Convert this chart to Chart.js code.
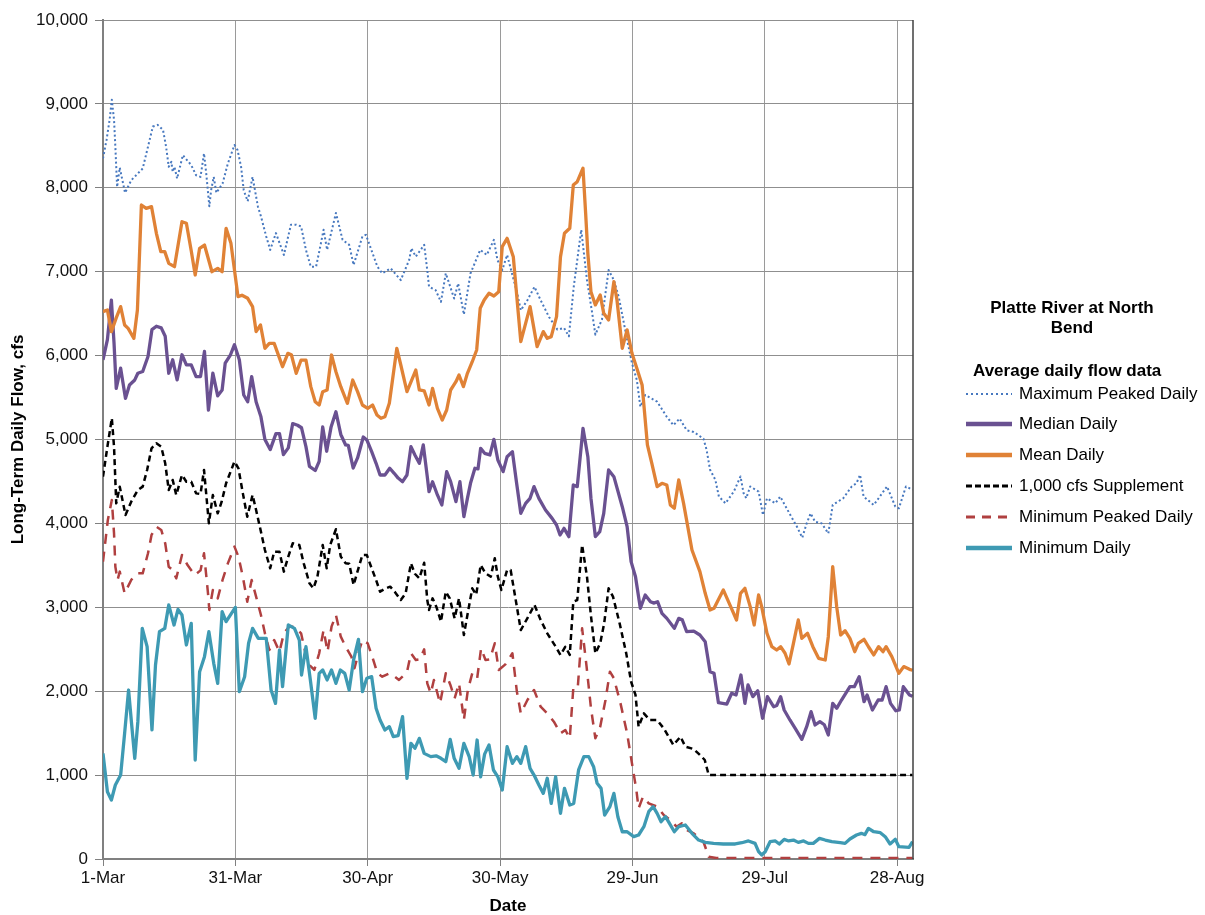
<!DOCTYPE html>
<html><head><meta charset="utf-8">
<script src="https://cdn.jsdelivr.net/npm/chart.js@4.4.0/dist/chart.umd.min.js"></script>
<style>
html,body{margin:0;padding:0;background:#fff;}
#wrap{position:relative;width:1205px;height:915px;overflow:hidden;}
#c{position:absolute;left:0;top:0;}
.lg{position:absolute;font-family:"Liberation Sans",Arial,sans-serif;color:#000;font-size:17px;white-space:nowrap;}
.b{font-weight:bold;}
.item{height:22px;line-height:22px;}
.item svg{position:absolute;left:-53px;top:0;}
</style></head><body>
<div id="wrap">
<canvas id="c" width="1205" height="915"></canvas>
<div class="lg b" style="left:962px;top:298px;width:220px;text-align:center;line-height:20px;">Platte River at North<br>Bend</div>
<div class="lg b" style="left:973px;top:360px;line-height:22px;">Average daily flow data</div>
<div id="legendItems"></div>
</div>
<script>
// ---- data (day offset from 1-Mar, flow in cfs) ----
const tickDays = [0, 30, 60, 90, 120, 150, 180];
const tickLabels = ['1-Mar', '31-Mar', '30-Apr', '30-May', '29-Jun', '29-Jul', '28-Aug'];
const seriesNames = ['Maximum Peaked Daily', 'Median Daily', 'Mean Daily', '1,000 cfs Supplement', 'Minimum Peaked Daily', 'Minimum Daily'];

const maxPeaked = [[0,8350],[0.8,8570],[1.5,8810],[2,9050],[2.5,8810],[2.8,8490],[3.2,8010],[3.8,8240],[5,7940],[6.4,8090],[9,8230],[10.2,8490],[11.3,8730],[12.4,8750],[13.6,8690],[14.3,8490],[14.9,8250],[15.5,8310],[15.8,8190],[16.2,8250],[16.8,8110],[18.1,8390],[20,8270],[21.1,8150],[22.1,8130],[22.9,8410],[23.4,8170],[24.1,7780],[24.5,7970],[25.1,8130],[25.7,7940],[27.1,8050],[28.3,8290],[29.8,8510],[30.5,8450],[31.3,8250],[31.9,7970],[32.8,7840],[33.9,8130],[35.1,7780],[35.8,7660],[37,7420],[37.9,7260],[39.2,7460],[41,7200],[42.6,7560],[43.8,7560],[44.9,7540],[46,7260],[47.1,7060],[48.3,7060],[49.4,7340],[50,7500],[50.8,7260],[52.8,7700],[54.3,7380],[55.8,7320],[56.8,7080],[58.8,7420],[59.6,7440],[61.1,7220],[62.2,7060],[63.3,6980],[65.2,7040],[67.5,6900],[69.4,7140],[69.9,7280],[70.9,7180],[72.8,7320],[73.5,7020],[73.9,6820],[75.4,6780],[76.6,6640],[77.7,6980],[79.6,6680],[80.5,6860],[81.8,6490],[83.3,6980],[85.5,7260],[87,7200],[88.6,7380],[89.4,7140],[90.5,7020],[91.6,7200],[93.9,6740],[94.7,6540],[96.2,6660],[97.8,6820],[99.2,6660],[101.1,6460],[103,6310],[104.5,6330],[105.6,6230],[106.7,6820],[108.4,7500],[109.7,6900],[110.9,6500],[111.6,6250],[113.1,6430],[114.6,7020],[115.8,6900],[116.9,6700],[118.8,6190],[119.9,5910],[121,5710],[121.8,5390],[122.9,5530],[125.6,5450],[127.8,5270],[129.3,5170],[130.7,5250],[132.3,5110],[133.9,5090],[136.1,5010],[136.8,4880],[137.6,4640],[138.8,4520],[139.6,4320],[141.1,4240],[143,4380],[144.5,4560],[145.2,4360],[145.8,4300],[146.7,4440],[148.6,4380],[149.6,4100],[150.5,4300],[152.4,4240],[153.5,4320],[155.8,4100],[157.3,3960],[158.5,3830],[159.5,4000],[160.4,4120],[161.4,4020],[162.9,4000],[164.4,3880],[165.4,4220],[167.8,4300],[169.7,4440],[170.8,4480],[171.6,4580],[172.4,4320],[174.7,4220],[175.8,4300],[177.7,4440],[179.6,4200],[180.4,4180],[182,4440],[183.5,4400]];

const medianDaily = [[0,5950],[1,6190],[1.9,6660],[2.5,6150],[3,5610],[4,5850],[5.1,5490],[6,5650],[7.2,5710],[7.9,5790],[9,5810],[10.2,5990],[11.1,6310],[12.1,6350],[13.2,6330],[14.1,6230],[14.9,5790],[15.8,5950],[16.8,5710],[17.9,6010],[18.9,5890],[20,5890],[21.1,5750],[22.1,5750],[23,6050],[23.9,5350],[24.9,5790],[26,5520],[27,5590],[27.7,5910],[28.9,6010],[29.8,6130],[30.9,5950],[31.9,5530],[32.8,5450],[33.7,5750],[34.7,5450],[35.8,5270],[36.7,5000],[37.9,4880],[39.2,5070],[40,5070],[40.9,4820],[42,4900],[43,5190],[44.1,5170],[45,5140],[46,4915],[46.8,4680],[48.1,4630],[49,4740],[49.8,5150],[50.7,4860],[51.7,5150],[52.8,5330],[53.9,5060],[55,4935],[55.6,4930],[56.7,4660],[57.7,4780],[59,5030],[59.8,4995],[60.9,4855],[61.9,4716],[62.8,4577],[63.9,4577],[65,4657],[66,4597],[66.9,4540],[67.9,4497],[68.9,4577],[69.8,4915],[70.7,4816],[71.7,4716],[72.6,4935],[73.5,4557],[73.9,4378],[74.7,4497],[75.8,4339],[76.8,4220],[77.9,4617],[78.8,4497],[80,4259],[80.9,4497],[81.8,4080],[82.6,4299],[83.3,4478],[84.3,4657],[85,4650],[85.6,4895],[86.5,4835],[87.7,4816],[88.6,5002],[89.5,4756],[90.7,4617],[91.6,4795],[92.8,4855],[93.7,4500],[94.7,4120],[95.8,4239],[96.8,4299],[97.7,4438],[98.8,4299],[100.3,4160],[101.8,4060],[102.8,3981],[103.6,3862],[104.5,3941],[105.6,3842],[106.6,4458],[107.5,4438],[108.8,5133],[109.9,4795],[110.6,4300],[111.6,3842],[112.6,3901],[113.5,4120],[114.6,4637],[115.8,4557],[117.7,4199],[118.8,3961],[119.7,3544],[120.7,3365],[121.8,2988],[122.9,3147],[124.1,3067],[124.8,3050],[125.7,3067],[126.7,2928],[127.8,2868],[129.5,2749],[130.5,2868],[131.3,2850],[132.3,2709],[133.9,2715],[135.3,2670],[136.5,2590],[137.6,2233],[138.5,2213],[139.5,1863],[141.4,1847],[142.5,1975],[143.5,1955],[144.6,2193],[145.5,1855],[146.2,2074],[147.3,1935],[148.4,2006],[149.5,1677],[150.6,1935],[152,1815],[152.7,1830],[153.6,1935],[154.4,1776],[155.7,1657],[156.9,1557],[158.4,1426],[159.5,1577],[160.5,1756],[161.4,1597],[162.5,1637],[163.5,1600],[164.4,1478],[165.4,1855],[166.3,1796],[167.4,1895],[169.3,2054],[170.3,2054],[171.4,2173],[172.5,1875],[173.2,1955],[174.4,1776],[175.7,1895],[176.6,1895],[177.5,2054],[178.5,1855],[179.7,1767],[180.5,1776],[181.4,2054],[182.8,1955],[183.5,1940]];

const meanDaily = [[0,6524],[1,6544],[1.9,6286],[3,6450],[4,6584],[4.9,6365],[5.7,6325],[7,6206],[7.8,6544],[8.7,7795],[9.8,7755],[11,7775],[12.1,7458],[13.1,7239],[14,7239],[14.9,7100],[16.2,7060],[17.9,7596],[18.9,7577],[20,7250],[20.9,6961],[21.9,7279],[23,7318],[24.7,7000],[26,7040],[27,7000],[27.9,7517],[29,7338],[30.6,6703],[31.5,6720],[32.8,6683],[33.9,6584],[34.7,6286],[35.7,6365],[36.7,6087],[37.7,6146],[38.8,6146],[40.7,5868],[41.9,6027],[42.7,6010],[43.8,5789],[44.9,5947],[46,5947],[47.1,5630],[48.1,5451],[49,5411],[49.8,5570],[50.8,5590],[51.8,6007],[52.8,5808],[53.9,5630],[55.4,5431],[56.6,5709],[57.7,5570],[58.8,5411],[60,5371],[61.1,5411],[62.1,5292],[63,5253],[63.9,5272],[64.9,5431],[66.6,6087],[67.5,5888],[68.9,5570],[70.9,5828],[71.7,5590],[72.8,5580],[73.9,5411],[74.7,5610],[75.8,5371],[76.9,5232],[77.9,5352],[78.8,5590],[80,5689],[80.7,5769],[81.7,5630],[82.6,5789],[83.7,5927],[84.7,6067],[85.5,6564],[86.4,6663],[87.5,6743],[88.6,6711],[89.7,6762],[90.5,7298],[91.6,7398],[93,7179],[93.8,6700],[94.7,6166],[96.8,6584],[98.4,6107],[99.8,6286],[100.7,6206],[101.6,6226],[102.8,6464],[103.7,7179],[104.6,7458],[105.8,7517],[106.6,8033],[107.5,8073],[108.8,8233],[109.4,7695],[109.9,7219],[110.6,6762],[111.6,6604],[112.7,6723],[113.5,6504],[114.6,6425],[115.8,6881],[116.5,6663],[117.7,6087],[118.8,6306],[119.9,6027],[121,5850],[122.2,5650],[123.4,4935],[124.4,4716],[125.6,4438],[126.7,4478],[127.8,4458],[128.6,4220],[129.5,4180],[130.5,4518],[131.6,4239],[133.5,3683],[135.3,3425],[136.5,3167],[137.6,2968],[138.5,2988],[140.6,3207],[142.1,3028],[143.6,2849],[144.5,3167],[145.5,3226],[146.7,3008],[147.6,2789],[148.6,3147],[149.3,3008],[150.5,2690],[151.6,2531],[152.7,2491],[153.6,2531],[154.6,2452],[155.5,2324],[156.5,2571],[157.6,2849],[158.4,2630],[159.7,2690],[160.9,2531],[162.2,2392],[163.7,2372],[164.4,2650],[165.4,3484],[166.3,3008],[167.2,2670],[168.2,2721],[169.3,2630],[170.4,2471],[171.2,2571],[172.5,2618],[173.5,2530],[174.7,2432],[175.8,2531],[176.8,2471],[177.5,2531],[178.8,2412],[180.4,2213],[181.5,2293],[182.8,2261],[183.5,2250]];

const supplement = [[0,4557],[1,4915],[2,5253],[2.5,4915],[3,4239],[3.8,4438],[5.1,4100],[6.4,4259],[7.9,4398],[9,4438],[10,4637],[11,4895],[12.1,4955],[13.2,4915],[14.1,4716],[14.9,4398],[15.8,4517],[16.6,4339],[17.9,4577],[18.9,4497],[20,4497],[21.1,4358],[22.1,4350],[22.9,4637],[24,4001],[24.9,4339],[26,4120],[26.9,4259],[27.9,4478],[29.8,4736],[30.7,4657],[31.7,4358],[32.7,4080],[33.9,4339],[34.7,4160],[35.8,3901],[36.7,3683],[37.9,3465],[38.8,3663],[40,3663],[41,3425],[42,3604],[43,3763],[44.5,3743],[45.5,3524],[46.8,3286],[47.7,3226],[48.6,3365],[49.8,3743],[50.7,3465],[51.5,3743],[52.8,3930],[53.9,3604],[55,3524],[55.8,3520],[56.8,3266],[57.9,3465],[58.8,3624],[59.8,3624],[60.9,3465],[61.9,3326],[62.8,3186],[63.9,3220],[65.1,3246],[66.2,3180],[67.5,3087],[68.6,3167],[69.8,3524],[70.7,3400],[71.7,3345],[72.8,3531],[73.5,3087],[73.9,2968],[74.7,3107],[75.6,3000],[76.6,2829],[77.7,3186],[78.6,3107],[79.7,2868],[80.7,3107],[81.8,2670],[82.6,2908],[83.7,3226],[84.6,3150],[85.6,3504],[86.7,3405],[87.9,3365],[88.8,3584],[89.5,3365],[90.3,3206],[91.6,3445],[92.4,3445],[94.7,2729],[96.3,2880],[97.8,3028],[99.2,2849],[100.7,2690],[102.6,2531],[103.7,2432],[104.8,2530],[105.8,2432],[106.6,3067],[107.5,3087],[108.6,3743],[109.7,3365],[110.6,2900],[111.6,2451],[112.7,2571],[113.6,2809],[114.6,3226],[115.6,3127],[117.1,2809],[118.6,2451],[119.7,2114],[120.7,1955],[121.4,1577],[122.6,1736],[123.9,1657],[125.6,1657],[127.1,1557],[129.3,1359],[130.9,1458],[132,1339],[133.9,1310],[135.7,1220],[136.4,1180],[137.3,1000],[183.5,1000]];

const minPeaked = [[0,3544],[1.1,4041],[2,4279],[2.5,3882],[2.8,3484],[3.3,3326],[3.8,3425],[4.9,3167],[6.4,3326],[7.9,3405],[9,3405],[10.2,3644],[11,3862],[12.1,3961],[13.2,3922],[14.1,3763],[14.9,3484],[15.8,3445],[16.6,3345],[17.9,3624],[19.2,3500],[20.8,3385],[22.1,3440],[22.9,3644],[23.8,3167],[24.1,2968],[24.9,3206],[26,3107],[27.1,3326],[28.3,3524],[29.8,3723],[30.7,3604],[31.7,3365],[32.7,3067],[33.7,3326],[34.7,3127],[35.8,2908],[36.7,2690],[37.7,2491],[38.8,2610],[40,2470],[41,2690],[42.2,2769],[43.4,2769],[44.9,2690],[46.4,2332],[47.9,2253],[49,2452],[50,2729],[50.9,2471],[51.8,2769],[52.8,2908],[53.9,2650],[55,2531],[56.3,2412],[57,2273],[58.1,2491],[58.8,2610],[60,2571],[61.1,2400],[62.2,2213],[63.3,2173],[64.9,2213],[66,2180],[67.1,2134],[68,2180],[69,2253],[69.8,2452],[70.9,2372],[71.8,2380],[72.8,2499],[73.5,2094],[74.3,1975],[75,2134],[76.4,1855],[77.7,2213],[78.7,2080],[79.7,1915],[80.7,2094],[81.8,1657],[82.7,2014],[83.7,2213],[84.8,2150],[85.7,2511],[86.7,2372],[87.7,2380],[88.8,2571],[89.7,2253],[91.2,2320],[92.8,2452],[93.8,2000],[94.7,1736],[96.2,1895],[97.7,2014],[99.2,1815],[100.7,1736],[102.2,1637],[103.7,1498],[104.8,1538],[105.8,1438],[106.6,2034],[107.6,2034],[108.6,2749],[109.6,2300],[110.6,1800],[111.6,1438],[112.7,1577],[113.9,1895],[114.9,2233],[115.8,2154],[117.3,1855],[118.8,1498],[119.9,1140],[120.9,822],[121.4,604],[122.4,743],[123.7,663],[125.6,624],[127.1,524],[128.6,465],[130,385],[131.2,425],[132.3,346],[133.9,306],[136.1,206],[137.3,27],[139,12],[183.5,12]];

const minDaily = [[0,1259],[1,802],[1.9,703],[2.8,882],[4,1001],[4.9,1498],[5.8,2014],[6.5,1600],[7.2,1200],[7.9,1637],[8.9,2749],[10,2531],[11.1,1538],[11.9,2312],[12.8,2709],[14,2749],[14.9,3028],[16.1,2789],[17,2975],[17.9,2908],[18.9,2551],[20,2809],[20.9,1180],[21.9,2233],[23,2412],[24,2709],[25.1,2332],[26,2094],[27,2948],[27.9,2829],[30,2999],[30.9,1994],[32.1,2173],[33,2571],[33.9,2749],[35.2,2630],[37,2630],[38.1,2014],[39.1,1855],[40,2491],[40.7,2054],[42,2789],[43.4,2749],[44.5,2610],[45,2193],[46,2531],[47,2134],[48.1,1677],[49,2213],[49.8,2253],[50.8,2134],[51.8,2253],[52.8,2094],[53.8,2253],[54.8,2213],[55.8,2014],[56.8,2372],[57.9,2618],[58.8,1994],[59.8,2154],[60.9,2173],[61.9,1796],[62.8,1657],[63.9,1538],[64.9,1577],[65.8,1458],[66.9,1470],[67.9,1696],[68.9,962],[69.8,1379],[70.7,1319],[71.7,1438],[72.8,1259],[74.3,1220],[75.5,1230],[76.6,1200],[77.7,1160],[78.7,1426],[79.6,1200],[80.7,1081],[81.8,1379],[83,1220],[83.9,1001],[84.8,1418],[85.6,980],[86.5,1250],[87.5,1359],[88.5,1061],[89.5,980],[90.5,822],[91.6,1339],[92.8,1140],[93.8,1220],[94.7,1140],[95.8,1339],[96.8,1081],[97.7,1000],[98.8,882],[99.8,782],[100.7,962],[101.6,663],[102.6,980],[103.7,544],[104.6,842],[105.8,644],[106.7,663],[107.8,1061],[109,1220],[110.1,1220],[111.2,1100],[112,902],[112.9,842],[113.7,524],[114.9,624],[115.8,782],[116.7,504],[117.7,325],[118.8,325],[120.3,266],[121.4,286],[122.6,385],[123.7,564],[124.7,624],[125.6,544],[126.5,445],[127.5,504],[128.4,425],[129.5,325],[130.5,385],[132,405],[133.5,306],[135,226],[136.5,198],[138.4,186],[140.6,179],[143.3,179],[144.8,194],[146.3,215],[147.8,186],[148.6,87],[149.3,48],[150.1,87],[151.2,206],[152.4,215],[153.3,179],[154.4,234],[155.4,215],[156.5,226],[157.6,198],[158.8,215],[159.9,186],[161,186],[162.4,246],[163.7,226],[165.2,206],[167.1,194],[168.2,186],[169.3,238],[170.8,286],[171.9,306],[172.7,290],[173.5,365],[174.7,325],[176.2,313],[177.3,266],[178.4,179],[179.6,234],[180.4,147],[182.7,139],[183.5,206]];

// ---- styles ----
const styles = [
  {color:'#4778bf', width:2, dash:[2,2.5]},
  {color:'#6a5191', width:3.3, dash:[]},
  {color:'#e08236', width:3.3, dash:[]},
  {color:'#000000', width:2.5, dash:[6,4]},
  {color:'#b04040', width:2.5, dash:[10,8]},
  {color:'#3e9ab3', width:3.3, dash:[]}
];
const allSeries = [maxPeaked, medianDaily, meanDaily, supplement, minPeaked, minDaily];

const datasets = allSeries.map((s, i) => ({
  label: seriesNames[i],
  data: s.map(p => ({x: p[0], y: p[1]})),
  borderColor: styles[i].color,
  borderWidth: styles[i].width,
  borderDash: styles[i].dash,
  borderJoinStyle: 'round',
  pointRadius: 0,
  tension: 0,
  fill: false,
  order: 6 - i
}));

// legend (HTML)
const li = document.getElementById('legendItems');
const itemTops = [383, 413, 444, 475, 506, 537];
seriesNames.forEach((n, i) => {
  const st = styles[i];
  const d = document.createElement('div');
  d.className = 'lg item';
  d.style.left = '1019px';
  d.style.top = itemTops[i] + 'px';
  const sw = i === 0 ? 2 : (st.dash.length ? 3 : 4.5);
  const dash = i === 0 ? '2,3' : (i === 3 ? '6,3' : (i === 4 ? '9,7' : 'none'));
  d.innerHTML = '<svg width="47" height="22"><line x1="0" y1="11" x2="46" y2="11" stroke="' + st.color + '" stroke-width="' + sw + '" stroke-dasharray="' + dash + '"/></svg>' + n;
  li.appendChild(d);
});

const rightBorder = {
  id: 'rightBorder',
  afterDatasetsDraw(chart) {
    const {ctx, chartArea: a} = chart;
    ctx.save();
    ctx.strokeStyle = '#404040';
    ctx.lineWidth = 1.5;
    ctx.beginPath();
    ctx.moveTo(a.right, a.top);
    ctx.lineTo(a.right, a.bottom);
    ctx.stroke();
    ctx.restore();
  }
};

const FONT = '"Liberation Sans", Arial, sans-serif';
new Chart(document.getElementById('c'), {
  type: 'line',
  data: {datasets},
  plugins: [rightBorder],
  options: {
    responsive: false,
    animation: false,
    devicePixelRatio: 1,
    layout: {padding: {top: 20, right: 292, bottom: 0, left: 0}},
    plugins: {legend: {display: false}, tooltip: {enabled: false}},
    scales: {
      x: {
        type: 'linear',
        min: 0,
        max: 183.6,
        afterFit(scale) { scale.height = 56; },
        afterBuildTicks(scale) { scale.ticks = tickDays.map(v => ({value: v})); },
        ticks: {
          autoSkip: false, maxRotation: 0, padding: 2,
          color: '#111', font: {family: FONT, size: 17},
          callback: (v) => tickLabels[tickDays.indexOf(v)]
        },
        grid: {color: '#9a9a9a', lineWidth: 1, tickLength: 7, tickColor: '#808080'},
        border: {color: '#808080', width: 2},
        title: {display: true, text: 'Date', color: '#000', padding: {top: 0, bottom: 0},
          font: {family: FONT, size: 17, weight: 'bold', lineHeight: 1}}
      },
      y: {
        min: 0, max: 10000,
        afterFit(scale) { scale.width = 103; },
        ticks: {
          stepSize: 1000, padding: 7, color: '#111',
          font: {family: FONT, size: 17},
          callback: (v) => v.toLocaleString('en-US')
        },
        grid: {color: '#8f8f8f', lineWidth: 1, tickLength: 8, tickColor: '#808080'},
        border: {color: '#808080', width: 2},
        title: {display: true, text: 'Long-Term Daily Flow, cfs', color: '#000', padding: {top: 8, bottom: 0},
          font: {family: FONT, size: 17, weight: 'bold'}}
      }
    }
  }
});
</script>
</body></html>
